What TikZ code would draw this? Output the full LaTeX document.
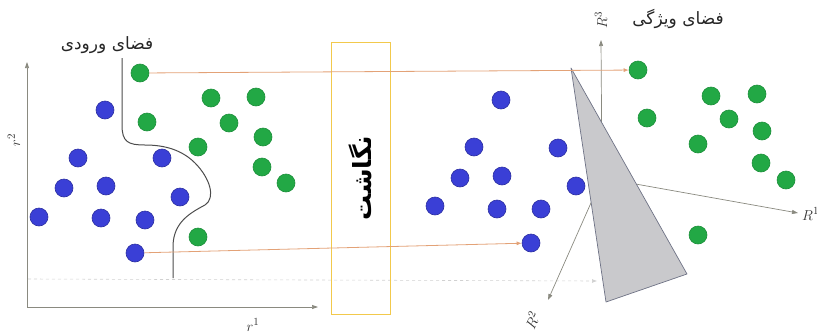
\documentclass[tikz,border=0pt]{standalone}
\usepackage{fontspec}
\usepackage{tikz}
\usetikzlibrary{arrows.meta}
\TeXXeTstate=1
\newfontfamily\arabicfont[Script=Arabic]{DejaVu Sans}
\definecolor{DotBlue}{HTML}{3A3FD6}
\definecolor{DotGreen}{HTML}{22A845}
\definecolor{MapLine}{HTML}{E3A277}
\definecolor{Frame}{HTML}{F2C94C}
\definecolor{Axis}{HTML}{8A8A80}
\definecolor{Wedge}{HTML}{C9C9CC}
\definecolor{WedgeEdge}{HTML}{6E7285}
\tikzset{
  bdot/.style={circle, fill=DotBlue, draw=DotBlue!75!black, line width=0.6pt,
               minimum size=18pt, inner sep=0pt},
  gdot/.style={bdot, fill=DotGreen, draw=DotGreen!85!black},
  mapbox/.style={draw=Frame, line width=0.8pt, minimum width=272pt, minimum height=59pt,
                 rotate=90, font=\arabicfont\bfseries\fontsize{25}{28}\selectfont},
  maparrow/.style={-{Latex[length=5pt,width=4pt]}, line width=0.8pt, draw=MapLine},
  axis/.style={-{Triangle[length=6pt,width=4pt]}, line width=0.7pt, draw=Axis},
  faint/.style={-{Latex[length=5pt,width=4pt]}, dashed, line width=0.6pt, draw=black!18},
  boundary/.style={line width=1pt, draw=black!70},
  wedge/.style={fill=Wedge, draw=WedgeEdge, line width=0.7pt, line join=round},
  space/.style={font=\arabicfont\fontsize{17}{19}\selectfont, text=black!85, inner sep=1pt},
  tag/.style={font=\fontsize{15}{17}\selectfont, text=black!80, inner sep=1pt},
}

\begin{document}
\begin{tikzpicture}[x=1pt, y=-1pt]
  \useasboundingbox (0,0) rectangle (817,335);

  \coordinate (o1) at (27,307);
  \coordinate (o2) at (602,178);
  \draw[axis] (o1) -- (318,307);
  \draw[axis] (o1) -- (27,62);
  \node[tag] (r1) at (253,325) {$r^1$};
  \node[tag, rotate=90] (r2) at (14,140) {$r^2$};

  \draw[faint] (28,279) -- (597,281);

  \draw[axis] (o2) -- (601,40);
  \draw[axis] (o2) -- (798,213);
  \draw[axis] (o2) -- (548,300);
  \node[tag, rotate=90] (R3) at (601,20) {$R^3$};
  \node[tag, anchor=west] (R1) at (801,214) {$R^1$};
  \node[tag, rotate=65] (R2) at (532,320) {$R^2$};

  \draw[wedge] (571,68) -- (606,302) -- (687,274) -- cycle;

  \draw[boundary] (122,58) -- (122,125) .. controls (122,142) and (128,145) .. (145,145)
    .. controls (165,145) and (182,150) .. (195,163)
    .. controls (210,178) and (216,198) .. (205,205)
    .. controls (190,213) and (174,222) .. (173,245) -- (173,278);

  \foreach \x/\y [count=\i] in {105/110, 78/158, 162/158, 64/188, 106/186,
      180/197, 39/217, 101/218, 145/220, 135/253}
    \node[bdot] (a\i) at (\x,\y) {};
  \foreach \x/\y [count=\i] in {140/73, 147/122, 211/98, 256/97, 229/123,
      263/137, 198/147, 262/167, 286/183, 198/237}
    \node[gdot] (g\i) at (\x,\y) {};
  \foreach \x/\y [count=\i] in {501/100, 474/147, 558/148, 460/178, 502/176,
      576/186, 435/206, 497/209, 541/209, 531/243}
    \node[bdot] (b\i) at (\x,\y) {};
  \foreach \x/\y [count=\i] in {638/70, 647/118, 711/96, 757/94, 729/119,
      762/131, 698/144, 761/163, 786/180, 698/235}
    \node[gdot] (h\i) at (\x,\y) {};

  \node[mapbox] (map) at (360.5,178) {\beginR نگاشت\endR};

  \draw[maparrow] (g1) -- (h1);
  \draw[maparrow] (a10) -- (b10);

  \node[space] (inspace) at (107,45) {\beginR فضای ورودی\endR};
  \node[space] (featspace) at (678,19) {\beginR فضای ویژگی\endR};
\end{tikzpicture}
\end{document}
